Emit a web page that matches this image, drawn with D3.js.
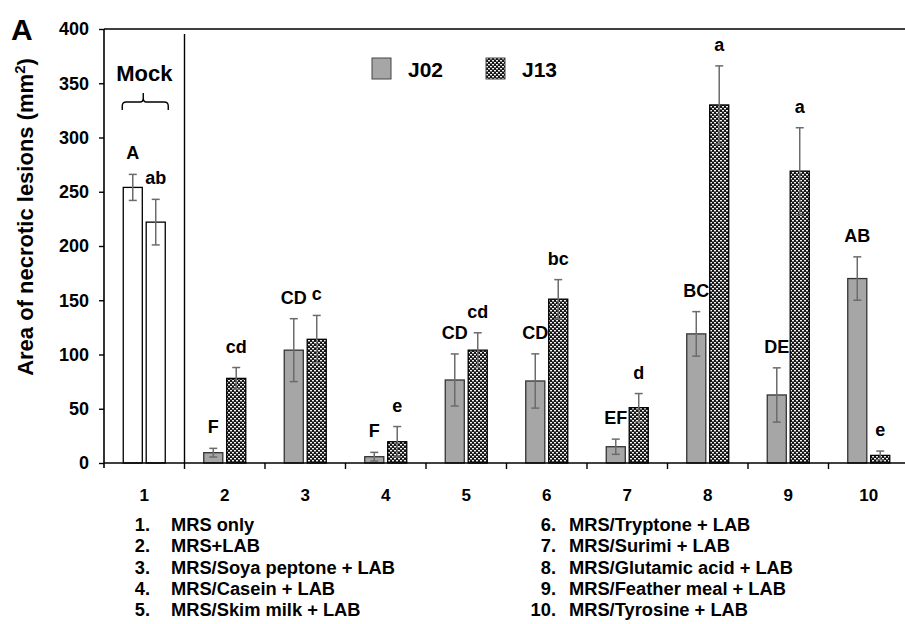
<!DOCTYPE html>
<html lang="en">
<head>
<meta charset="utf-8">
<style>
    body { margin: 0; background: #fff; }
    text { font-family: "Liberation Sans", Arial, sans-serif; font-weight: bold; }
</style>
<script src="https://cdn.jsdelivr.net/npm/d3@7"></script>
</head>
<body>
<script>
    // data
    let categories = ["1", "2", "3", "4", "5", "6", "7", "8", "9", "10"];
    let series = ["J02", "J13"];
    let j02 = [254, 9.5, 104, 5.8, 76.5, 75.6, 15, 119, 62.7, 170];
    let j02Err = [12, 4, 29, 4, 24, 25, 7, 20.5, 25, 20];
    let j13 = [222, 78, 114, 19.6, 104, 151, 51, 330, 269, 7];
    let j13Err = [21, 10, 22, 14, 16, 18, 13, 36, 40, 4];
    let j02Letters = ["A", "F", "CD", "F", "CD", "CD", "EF", "BC", "DE", "AB"];
    let j13Letters = ["ab", "cd", "c", "e", "cd", "bc", "d", "a", "a", "e"];
    let yTicks = [0, 50, 100, 150, 200, 250, 300, 350, 400];
    let treatments = ["MRS only", "MRS+LAB", "MRS/Soya peptone + LAB", "MRS/Casein + LAB",
        "MRS/Skim milk + LAB", "MRS/Tryptone + LAB", "MRS/Surimi + LAB",
        "MRS/Glutamic acid + LAB", "MRS/Feather meal + LAB", "MRS/Tyrosine + LAB"];

    let w = 905, h = 624;
    let padLeft = 104, padTop = 29, baseY = 463;

    let svg = d3.select("body").append("svg")
        .attr("width", w).attr("height", h);

    let defs = svg.append("defs");
    let pat = defs.append("pattern")
        .attr("id", "dots")
        .attr("width", 4).attr("height", 4)
        .attr("patternUnits", "userSpaceOnUse");
    pat.append("rect").attr("width", 4).attr("height", 4).attr("fill", "#141414");
    pat.append("rect").attr("x", 0).attr("y", 0).attr("width", 2).attr("height", 1.4).attr("fill", "#f4f4f4");
    pat.append("rect").attr("x", 2).attr("y", 2).attr("width", 2).attr("height", 1.4).attr("fill", "#f4f4f4");

    let xScale = d3.scaleBand().domain(categories).range([padLeft, padLeft + 805]);
    let xInner = d3.scaleBand().domain(series)
        .range([19.25, xScale.bandwidth() - 19.25]).paddingInner(0.17);
    let yScale = d3.scaleLinear().domain([0, 400]).range([baseY, padTop]);

    let rows = [];
    categories.forEach((c, i) => {
        rows.push({cat: c, s: "J02", v: j02[i], e: j02Err[i], l: j02Letters[i], i: i});
        rows.push({cat: c, s: "J13", v: j13[i], e: j13Err[i], l: j13Letters[i], i: i});
    });
    let barX = (d) => xScale(d.cat) + xInner(d.s);
    let fillOf = (d) => d.i == 0 ? "#fff" : (d.s == "J02" ? "#a6a6a6" : "url(#dots)");

    // bars
    svg.selectAll("rect.bar")
        .data(rows)
        .enter()
        .append("rect")
        .attr("class", "bar")
        .attr("x", barX)
        .attr("y", (d) => yScale(d.v))
        .attr("width", xInner.bandwidth())
        .attr("height", (d) => baseY - yScale(d.v))
        .attr("fill", fillOf)
        .attr("stroke", (d) => d.s == "J02" && d.i > 0 ? "#333" : "#000")
        .attr("stroke-width", 1.3);

    // error bars
    let eb = svg.append("g").attr("stroke", "#6b6b6b").attr("stroke-width", 1.5);
    rows.forEach((d) => {
        let cx = barX(d) + xInner.bandwidth() / 2;
        let y1 = yScale(d.v + d.e), y2 = yScale(Math.max(0, d.v - d.e));
        eb.append("line").attr("x1", cx).attr("x2", cx).attr("y1", y1).attr("y2", y2);
        eb.append("line").attr("x1", cx - 4).attr("x2", cx + 4).attr("y1", y1).attr("y2", y1);
        eb.append("line").attr("x1", cx - 4).attr("x2", cx + 4).attr("y1", y2).attr("y2", y2);
    });

    // significance letters
    svg.selectAll("text.letter")
        .data(rows)
        .enter()
        .append("text")
        .attr("class", "letter")
        .attr("x", (d) => barX(d) + xInner.bandwidth() / 2)
        .attr("y", (d) => yScale(d.v + d.e) - 15)
        .attr("text-anchor", "middle")
        .attr("font-size", "18px")
        .text((d) => d.l);

    // axes
    let yAxis = d3.axisLeft(yScale).tickValues(yTicks).tickSize(5).tickPadding(10);
    let gy = svg.append("g")
        .attr("transform", "translate(" + padLeft + ",0)")
        .call(yAxis);
    gy.select(".domain").attr("d", "M0," + padTop + "V" + (baseY + 5)).attr("stroke-width", 1.6);
    gy.selectAll(".tick line").attr("stroke-width", 1.4);
    gy.selectAll(".tick text").attr("font-size", "18px").attr("font-family", "Liberation Sans, Arial, sans-serif")
        .attr("font-weight", "bold").attr("fill", "#000");

    let gx = svg.append("g")
        .attr("transform", "translate(0," + baseY + ")")
        .call(d3.axisBottom(xScale).tickSize(0).tickPadding(0));
    gx.select(".domain").attr("d", "M" + padLeft + ",0H" + w).attr("stroke-width", 1.6);
    gx.selectAll(".tick text").attr("font-size", "17px").attr("font-family", "Liberation Sans, Arial, sans-serif")
        .attr("font-weight", "bold").attr("fill", "#000").attr("y", 38).attr("dy", 0);
    // ticks between categories
    gx.selectAll("line.sep")
        .data(categories.slice(1))
        .enter()
        .append("line")
        .attr("x1", (d) => xScale(d)).attr("x2", (d) => xScale(d))
        .attr("y1", 0).attr("y2", 6)
        .attr("stroke", "#000").attr("stroke-width", 1.4);

    // top frame line
    svg.append("line")
        .attr("x1", padLeft).attr("x2", w)
        .attr("y1", padTop).attr("y2", padTop)
        .attr("stroke", "#000").attr("stroke-width", 1.4);

    // mock divider
    svg.append("line")
        .attr("x1", xScale("2")).attr("x2", xScale("2"))
        .attr("y1", padTop + 5).attr("y2", baseY)
        .attr("stroke", "#000").attr("stroke-width", 1.4);

    let mockC = xScale("1") + xScale.bandwidth() / 2;
    svg.append("text")
        .attr("x", mockC).attr("y", 81)
        .attr("text-anchor", "middle")
        .attr("font-size", "22px")
        .text("Mock");
    svg.append("path")
        .attr("d", "M" + (mockC - 22) + ",110 V106 Q" + (mockC - 22) + ",102 " + (mockC - 18) + ",102 H" + (mockC - 4)
            + " Q" + (mockC - 1) + ",102 " + (mockC - 1) + ",98 V93 V98 Q" + (mockC - 1) + ",102 " + (mockC + 2) + ",102 H"
            + (mockC + 20) + " Q" + (mockC + 24) + ",102 " + (mockC + 24) + ",106 V110")
        .attr("fill", "none").attr("stroke", "#000").attr("stroke-width", 1.4);

    // legend
    let legendX = [372, 486];
    series.forEach((s, i) => {
        svg.append("rect")
            .attr("x", legendX[i]).attr("y", 58)
            .attr("width", 19).attr("height", 21)
            .attr("fill", i == 0 ? "#a6a6a6" : "url(#dots)")
            .attr("stroke", "#444").attr("stroke-width", 1);
        svg.append("text")
            .attr("x", legendX[i] + 36).attr("y", 77)
            .attr("font-size", "21px")
            .text(s);
    });

    // panel letter
    svg.append("text")
        .attr("x", 11).attr("y", 40)
        .attr("font-size", "30px")
        .text("A");

    // y axis title
    let yl = svg.append("text")
        .attr("x", 33).attr("y", 217)
        .attr("text-anchor", "middle")
        .attr("font-size", "22px")
        .attr("transform", "rotate(-90, 33, 217)");
    yl.append("tspan").text("Area of necrotic lesions (mm");
    yl.append("tspan").attr("baseline-shift", "super").attr("font-size", "15px").text("2");
    yl.append("tspan").text(")");

    // treatment key
    treatments.forEach((t, i) => {
        let col = i < 5 ? 0 : 1;
        let r = i % 5;
        let numEnd = col == 0 ? 150 : 556;
        let txtX = col == 0 ? 171 : 569;
        let y = 531 + r * 21.3;
        svg.append("text")
            .attr("x", numEnd).attr("y", y)
            .attr("text-anchor", "end")
            .attr("font-size", "18.3px")
            .text((i + 1) + ".");
        svg.append("text")
            .attr("x", txtX).attr("y", y)
            .attr("font-size", "18.3px")
            .text(t);
    });
</script>
</body>
</html>
